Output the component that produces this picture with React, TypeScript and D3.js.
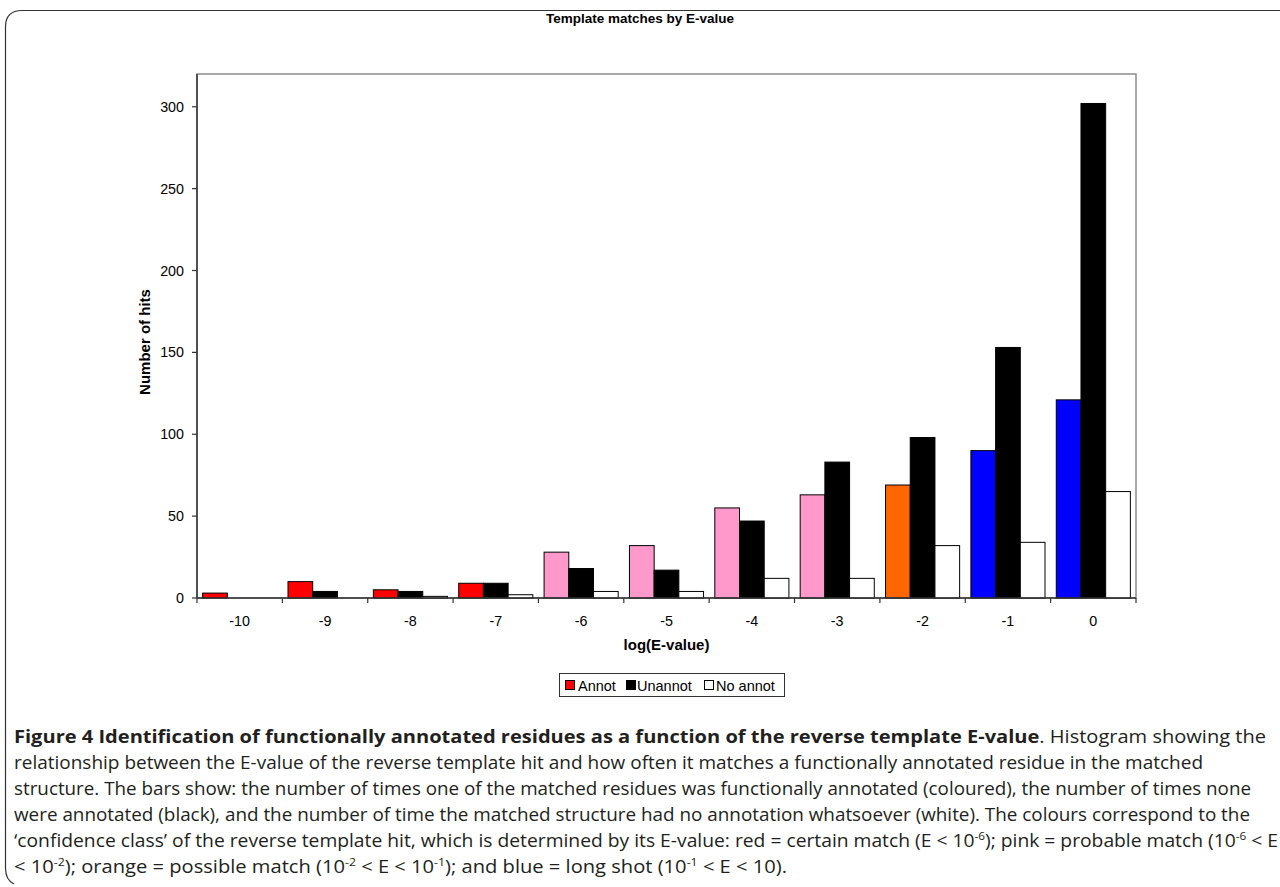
import React, { useEffect } from 'react';
import * as d3 from 'd3';

const categories = ['-10', '-9', '-8', '-7', '-6', '-5', '-4', '-3', '-2', '-1', '0'];
const annot = [3, 10, 5, 9, 28, 32, 55, 63, 69, 90, 121];
const unannot = [0, 4, 4, 9, 18, 17, 47, 83, 98, 153, 302];
const noAnnot = [0, 0, 1, 2, 4, 4, 12, 12, 32, 34, 65];
// confidence class colour of the Annot bar per category
const annotColours = ['#ff0000', '#ff0000', '#ff0000', '#ff0000', '#ff99cc', '#ff99cc', '#ff99cc', '#ff99cc', '#ff6600', '#0000ff', '#0000ff'];
const yTicks = [0, 50, 100, 150, 200, 250, 300];
const seriesNames = ['Annot', 'Unannot', 'No annot'];

const W = 1280;
const H = 887;
const plot = { left: 197, right: 1136, top: 74, bottom: 598 };
const font = 'Arial, "Liberation Sans", sans-serif';
const capFont = '"Open Sans", "Noto Sans", sans-serif';

const App: React.FC = () => {
  useEffect(() => {
    document.body.style.margin = '0';
  }, []);

  const x0 = d3.scaleBand().domain(categories).range([plot.left, plot.right]);
  const bw = x0.bandwidth();
  const x1 = d3.scaleBand().domain(seriesNames).range([bw * 0.066, bw * 0.934]);
  const y = d3.scaleLinear().domain([0, 320]).range([plot.bottom, plot.top]);

  const bars: { key: string; x: number; y: number; w: number; h: number; fill: string }[] = [];
  categories.forEach((c, i) => {
    const vals = [annot[i], unannot[i], noAnnot[i]];
    const fills = [annotColours[i], '#000000', '#ffffff'];
    vals.forEach((v, j) => {
      if (v <= 0) return;
      bars.push({
        key: `${c}-${j}`,
        x: (x0(c) || 0) + (x1(seriesNames[j]) || 0),
        y: y(v),
        w: x1.bandwidth(),
        h: y(0) - y(v),
        fill: fills[j],
      });
    });
  });

  const boundaries = categories.map(c => x0(c) || 0).concat([plot.right]);

  const sup = (t: string) => <tspan baselineShift="super" fontSize="11">{t}</tspan>;

  return (
    <svg width={W} height={H} style={{ display: 'block', background: '#fff' }}>
      {/* outer frame */}
      <path d="M1280,10.5 H22 Q5.5,10.5 5.5,27 V868 Q5.5,880 14,884" fill="none" stroke="#333" strokeWidth={1.2} />

      <text x={640} y={23} textAnchor="middle" fontFamily={font} fontSize={13.5} fontWeight="bold">
        Template matches by E-value
      </text>

      {/* plot area border */}
      <rect x={plot.left} y={plot.top} width={plot.right - plot.left} height={plot.bottom - plot.top}
        fill="none" stroke="#8c8c8c" strokeWidth={1.5} />

      {bars.map(b => (
        <rect key={b.key} x={b.x} y={b.y} width={b.w} height={b.h} fill={b.fill} stroke="#000" strokeWidth={1} />
      ))}

      {/* axes */}
      <line x1={plot.left} x2={plot.left} y1={plot.top} y2={plot.bottom} stroke="#333" strokeWidth={1.5} />
      <line x1={plot.left} x2={plot.right} y1={plot.bottom} y2={plot.bottom} stroke="#333" strokeWidth={1.5} />
      {yTicks.map(t => (
        <g key={t}>
          <line x1={plot.left - 5} x2={plot.left} y1={y(t)} y2={y(t)} stroke="#333" strokeWidth={1.2} />
          <text x={plot.left - 13} y={y(t) + 5} textAnchor="end" fontFamily={font} fontSize={14.3}>{t}</text>
        </g>
      ))}
      {boundaries.map((bx, i) => (
        <line key={i} x1={bx} x2={bx} y1={plot.bottom} y2={plot.bottom + 5} stroke="#333" strokeWidth={1.2} />
      ))}
      {categories.map(c => (
        <text key={c} x={(x0(c) || 0) + bw / 2} y={626} textAnchor="middle" fontFamily={font} fontSize={14.3}>{c}</text>
      ))}

      <text x={(plot.left + plot.right) / 2} y={650} textAnchor="middle" fontFamily={font} fontSize={15} fontWeight="bold">
        log(E-value)
      </text>
      <text transform={`translate(150,${(plot.top + plot.bottom) / 2 + 6}) rotate(-90)`} textAnchor="middle"
        fontFamily={font} fontSize={15} fontWeight="bold">
        Number of hits
      </text>

      {/* legend */}
      <rect x={559.5} y={673.5} width={225} height={23} fill="#fff" stroke="#333" strokeWidth={1} />
      {[
        { name: seriesNames[0], fill: '#ff0000', sx: 565, tx: 578 },
        { name: seriesNames[1], fill: '#000000', sx: 626, tx: 637 },
        { name: seriesNames[2], fill: '#ffffff', sx: 704, tx: 716 },
      ].map(l => (
        <g key={l.name}>
          <rect x={l.sx + 0.5} y={680.5} width={9} height={9} fill={l.fill} stroke="#000" strokeWidth={1} />
          <text x={l.tx} y={690.5} fontFamily={font} fontSize={14.5}>{l.name}</text>
        </g>
      ))}

      {/* caption */}
      <g fontFamily={capFont} fontSize={18} fill="#231f20">
        <text x={14} y={743} textLength={1252} lengthAdjust="spacingAndGlyphs">
          <tspan fontWeight="bold">Figure 4 Identification of functionally annotated residues as a function of the reverse template E-value</tspan>
          . Histogram showing the
        </text>
        <text x={14} y={769} textLength={1189} lengthAdjust="spacingAndGlyphs">
          relationship between the E-value of the reverse template hit and how often it matches a functionally annotated residue in the matched
        </text>
        <text x={14} y={795} textLength={1237} lengthAdjust="spacingAndGlyphs">
          structure. The bars show: the number of times one of the matched residues was functionally annotated (coloured), the number of times none
        </text>
        <text x={14} y={821} textLength={1236} lengthAdjust="spacingAndGlyphs">
          were annotated (black), and the number of time the matched structure had no annotation whatsoever (white). The colours correspond to the
        </text>
        <text x={14} y={847} textLength={1264} lengthAdjust="spacingAndGlyphs">
          ‘confidence class’ of the reverse template hit, which is determined by its E-value: red = certain match (E &lt; 10{sup('-6')}); pink = probable match (10{sup('-6')} &lt; E
        </text>
        <text x={14} y={873} textLength={773} lengthAdjust="spacingAndGlyphs">
          &lt; 10{sup('-2')}); orange = possible match (10{sup('-2')} &lt; E &lt; 10{sup('-1')}); and blue = long shot (10{sup('-1')} &lt; E &lt; 10).
        </text>
      </g>
    </svg>
  );
};

export default App;
